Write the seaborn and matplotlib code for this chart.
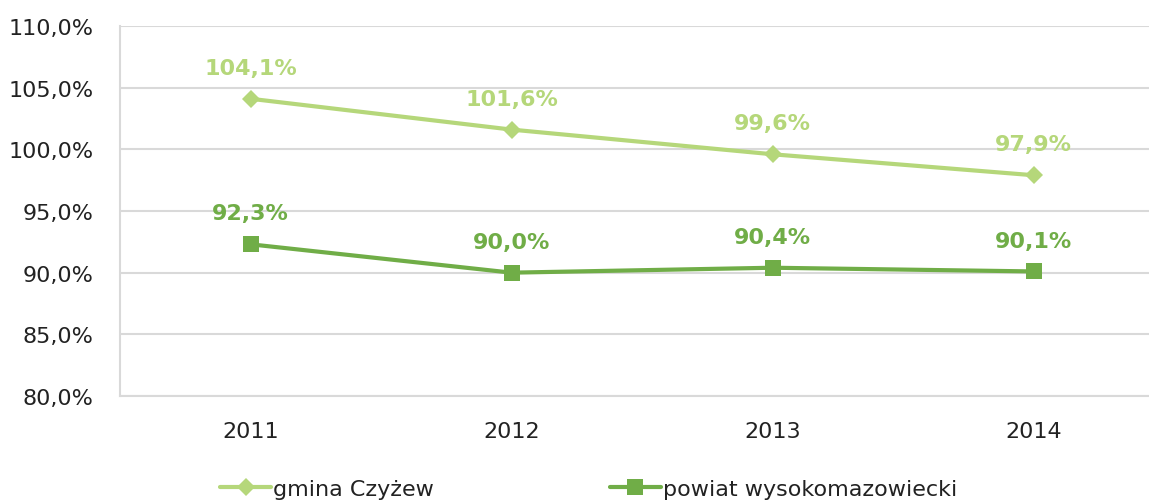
import numpy as np
import pandas as pd
import matplotlib
matplotlib.use("Agg")
import matplotlib.pyplot as plt
import seaborn as sns
from matplotlib.lines import Line2D

years = ["2011", "2012", "2013", "2014"]
gmina = [104.1, 101.6, 99.6, 97.9]
powiat = [92.3, 90.0, 90.4, 90.1]
series_names = ["gmina Czyżew", "powiat wysokomazowiecki"]

LIGHT = "#b5d77a"
DARK = "#70ad47"

sns.set_style("white")
plt.rcParams['font.family'] = ['DejaVu Sans']

df = pd.DataFrame({
    "year": years * 2,
    "x": list(range(len(years))) * 2,
    "value": gmina + powiat,
    "series": [series_names[0]] * 4 + [series_names[1]] * 4,
})

fig = plt.figure(figsize=(11.49, 5.02), dpi=100)
ax = fig.add_axes([120 / 1149, 105 / 502, 1044 / 1149, 370 / 502])

sns.lineplot(data=df, x="x", y="value", hue="series", style="series",
             markers={series_names[0]: "D", series_names[1]: "s"},
             dashes=False, palette={series_names[0]: LIGHT, series_names[1]: DARK},
             markersize=10, linewidth=3, markeredgewidth=0, ax=ax, legend=False)
for line, ms in zip(ax.lines, [9, 11]):
    line.set_markersize(ms)

# data labels above the points
for vals, col in [(gmina, LIGHT), (powiat, DARK)]:
    for i, v in enumerate(vals):
        ax.annotate(f"{v:.1f}%".replace(".", ","), (i, v), xytext=(0, 15),
                    textcoords="offset points", ha="center", va="bottom",
                    color=col, fontsize=16, fontweight="bold")

ax.set_xlim(-0.5, 3.5)
ax.set_ylim(80, 110)
ax.set_yticks(np.arange(80, 111, 5))
ax.set_yticklabels([f"{t:.1f}%".replace(".", ",") for t in np.arange(80, 111, 5)])
ax.set_xticks(range(4))
ax.set_xticklabels(years)
ax.tick_params(axis="both", labelsize=16, colors="#222222", length=0)
ax.tick_params(axis="x", pad=18)
ax.tick_params(axis="y", pad=19)
ax.set_xlabel("")
ax.set_ylabel("")
ax.grid(axis="y", color="#d9d9d9", linewidth=1.5)
ax.set_axisbelow(True)
for s in ["top", "right"]:
    ax.spines[s].set_visible(False)
for s in ["left", "bottom"]:
    ax.spines[s].set_color("#d9d9d9")
    ax.spines[s].set_linewidth(1.5)

handles = [Line2D([], [], color=LIGHT, marker="D", markersize=9, linewidth=3, markeredgewidth=0),
           Line2D([], [], color=DARK, marker="s", markersize=11, linewidth=3, markeredgewidth=0)]
fig.legend(handles, series_names, loc="center left", bbox_to_anchor=(200 / 1149, 12 / 502),
           ncol=2, frameon=False, fontsize=16, handlelength=2.3, handletextpad=0.1,
           columnspacing=7.9, labelcolor="#222222")

fig.savefig("out.png", dpi=100)
